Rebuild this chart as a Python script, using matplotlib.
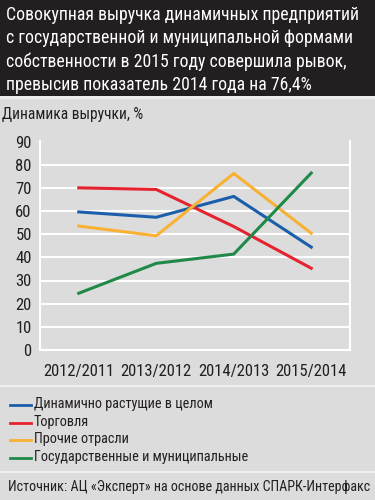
import matplotlib
matplotlib.use("Agg")
import matplotlib.pyplot as plt
from matplotlib.patches import Rectangle
from matplotlib.lines import Line2D

plt.rcParams['font.family'] = ['Roboto Condensed', 'DejaVu Sans']

title_lines = [
    "Совокупная выручка динамичных предприятий",
    "с государственной и муниципальной формами",
    "собственности в 2015 году совершила рывок,",
    "превысив показатель 2014 года на 76,4%",
]
ylabel = "Динамика выручки, %"
source = "Источник: АЦ «Эксперт» на основе данных СПАРК-Интерфакс"

periods = ["2012/2011", "2013/2012", "2014/2013", "2015/2014"]
total = [59.6, 57.3, 66.3, 44.4]
trade = [70.0, 69.3, 53.3, 35.3]
other = [53.5, 49.3, 76.2, 50.4]
state = [24.5, 37.4, 41.4, 76.4]

names = ["Динамично растущие в целом", "Торговля", "Прочие отрасли",
         "Государственные и муниципальные"]
colors = ["#1b5faa", "#e5232f", "#f8b133", "#1f8a48"]
series = [total, trade, other, state]

W, H = 375, 500
fig = plt.figure(figsize=(W / 100, H / 100), dpi=100)
fig.patch.set_facecolor("#dcdcdc")

def px(x, y):
    return x / W, 1 - y / H

# title block
fig.patches.append(Rectangle((0, 1 - 96 / H), 1, 96 / H, transform=fig.transFigure,
                             facecolor="#231f20", edgecolor="none", zorder=0))
fig.patches.append(Rectangle((0, 1 - 99 / H), 1, 3 / H, transform=fig.transFigure,
                             facecolor="#ececec", edgecolor="none", zorder=0))
for i, line in enumerate(title_lines):
    fig.text(*px(6, 15 + i * 23.3), line, color="white", fontsize=12.8,
             va="center", ha="left")

fig.text(*px(2, 115), ylabel, color="#231f20", fontsize=11.2, va="center", ha="left")

ax = fig.add_axes([40 / W, 0.3, 310 / W, (350 - 141.5) / H])
ax.set_facecolor("#dcdcdc")
x = range(len(periods))
for s, c in zip(series, colors):
    ax.plot(x, s, color=c, lw=2.2, solid_joinstyle="miter", zorder=3)

ax.set_xlim(-0.5, 3.5)
ax.set_ylim(0, 90)
ax.set_yticks(range(0, 91, 10))
ax.set_xticks(list(x))
ax.set_xticklabels(periods)
ax.grid(axis="y", color="white", lw=1.5)
ax.set_axisbelow(True)
for sp in ax.spines.values():
    sp.set_color("white")
    sp.set_linewidth(1.5)
ax.spines["top"].set_visible(False)
ax.tick_params(length=0, labelsize=12, colors="#231f20", pad=6)
ax.tick_params(axis="x", pad=10)

# separators
for yy in (386, 472):
    fig.lines.append(Line2D([0, 1], [1 - yy / H] * 2, transform=fig.transFigure,
                            color="#efefef", lw=1.5))

# legend
for i, (n, c) in enumerate(zip(names, colors)):
    yy = 405 + i * 17.7
    fig.lines.append(Line2D([10 / W, 31 / W], [1 - yy / H] * 2,
                            transform=fig.transFigure, color=c, lw=2))
    fig.text(*px(34, yy - 1), n, color="#231f20", fontsize=10.3, va="center", ha="left")

fig.text(*px(8, 487), source, color="#231f20", fontsize=10.1, va="center", ha="left")

fig.savefig("out.png", dpi=100, facecolor=fig.get_facecolor())
